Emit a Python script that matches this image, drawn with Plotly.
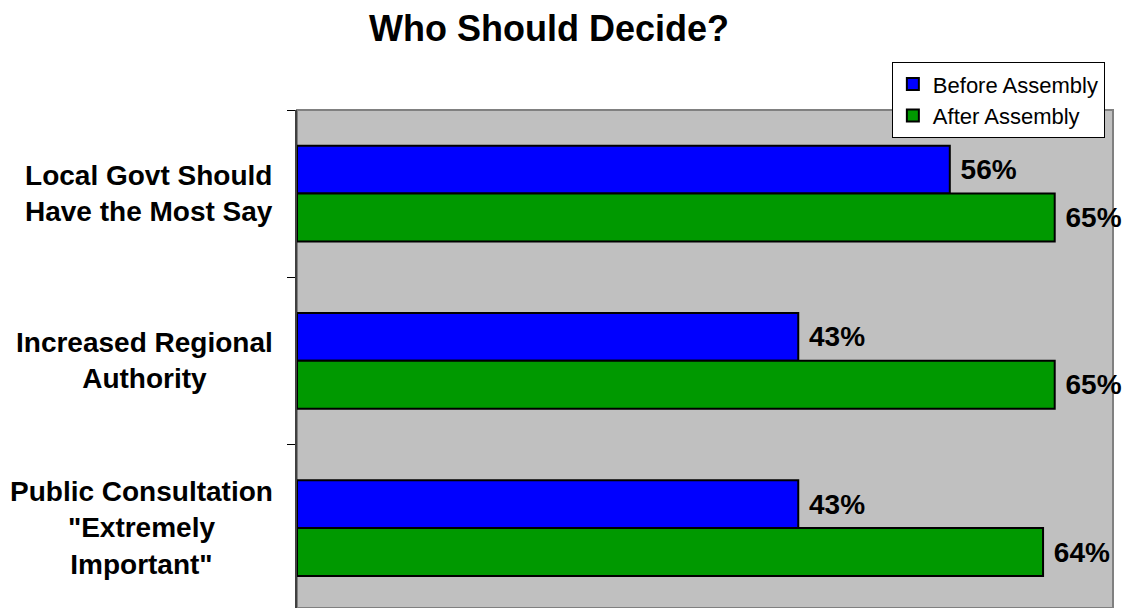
import plotly.graph_objects as go

categories = ["Local Govt Should<br>Have the Most Say",
              "Increased Regional<br>Authority",
              "Public Consultation<br>\"Extremely<br>Important\""]
before_vals = [56, 43, 43]
after_vals = [65, 65, 64]
series_names = ["Before Assembly", "After Assembly"]

FONT = "Liberation Sans, Arial, sans-serif"
keys = ["c0", "c1", "c2"]

fig = go.Figure()
for name, vals, color in [(series_names[0], before_vals, "#0000FF"),
                          (series_names[1], after_vals, "#009900")]:
    fig.add_trace(go.Bar(
        name=name, y=keys, x=vals, orientation="h",
        marker=dict(color=color, line=dict(color="black", width=2)),
        text=[f"{v}%" for v in vals], textposition="outside",
        textfont=dict(family=FONT, size=28, color="black"),
        texttemplate="\u00a0<b>%{text}</b>", cliponaxis=False,
    ))

# category labels, centred multi-line text to the left of the axis
for k, label in zip(keys, categories):
    fig.add_annotation(x=0, xref="paper", xshift=-22, xanchor="right",
                       y=k, yref="y", text=f"<b>{label}</b>", showarrow=False,
                       align="center", font=dict(family=FONT, size=28, color="black"))

# plot-area frame (top and right in grey)
fig.add_shape(type="rect", xref="paper", yref="paper", x0=0, x1=1, y0=0, y1=1,
              line=dict(color="#808080", width=2), layer="below")

fig.update_layout(
    width=1124, height=608,
    margin=dict(l=297, r=11, t=110, b=0),
    paper_bgcolor="white", plot_bgcolor="#C0C0C0",
    title=dict(text="<b>Who Should Decide?</b>", x=549 / 1124, xanchor="center",
               y=1 - 28 / 608, yanchor="middle",
               font=dict(family=FONT, size=36, color="black")),
    barmode="group", bargap=0.427, bargroupgap=0,
    showlegend=True,
    legend=dict(x=0.729, y=1.096, xanchor="left", yanchor="top",
                bgcolor="white", bordercolor="black", borderwidth=1,
                traceorder="normal",
                font=dict(family=FONT, size=22, color="black")),
    xaxis=dict(range=[0, 70], showgrid=False, zeroline=False,
               showticklabels=False, ticks="", showline=False, fixedrange=True),
    yaxis=dict(type="category", categoryorder="array", categoryarray=keys,
               range=[2.478, -0.5], showgrid=False, zeroline=False,
               showticklabels=False, ticks="outside", ticklen=8, tickcolor="black",
               tickson="boundaries", showline=True, linecolor="#404040", linewidth=2),
)

fig.write_html("out.html")
